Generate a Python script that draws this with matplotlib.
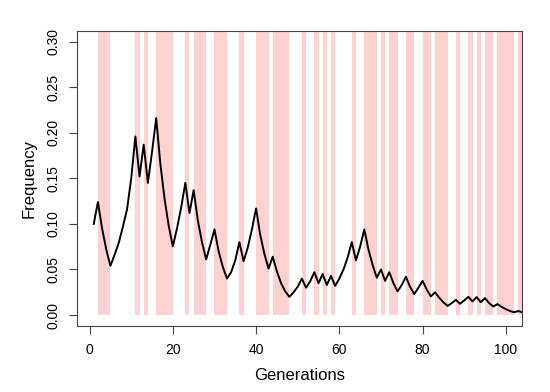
import matplotlib
matplotlib.use("Agg")
import matplotlib.pyplot as plt
import numpy as np

plt.rcParams['font.family'] = ['Liberation Sans', 'DejaVu Sans']

generations = list(range(1, 105))
frequency = [
    0.100, 0.124, 0.095, 0.072, 0.054, 0.066, 0.079, 0.097, 0.116, 0.150,
    0.196, 0.152, 0.187, 0.145, 0.179, 0.216, 0.166, 0.128, 0.098, 0.0755,
    0.095, 0.118, 0.145, 0.112, 0.137, 0.104, 0.080, 0.061, 0.077, 0.094,
    0.070, 0.053, 0.040, 0.047, 0.060, 0.080, 0.059, 0.074, 0.094, 0.117,
    0.088, 0.067, 0.051, 0.064, 0.048, 0.035, 0.026, 0.020, 0.025, 0.031,
    0.040, 0.030, 0.037, 0.047, 0.035, 0.045, 0.033, 0.043, 0.032, 0.040,
    0.050, 0.063, 0.080, 0.060, 0.075, 0.094, 0.072, 0.055, 0.041, 0.050,
    0.0375, 0.047, 0.035, 0.026, 0.033, 0.042, 0.031, 0.023, 0.030, 0.0375,
    0.028, 0.0205, 0.025, 0.019, 0.014, 0.010, 0.013, 0.0167, 0.0124, 0.016,
    0.020, 0.015, 0.0197, 0.014, 0.0186, 0.013, 0.0094, 0.012, 0.009, 0.0065,
    0.0045, 0.003, 0.0044, 0.003,
]

# shaded periods (start, end generation)
shade_start = [2, 11, 13, 16, 23, 25, 30, 36, 40, 44, 51, 54, 56, 58, 63, 66,
               70, 72, 76, 80, 83, 88, 91, 93, 95, 98, 103]
shade_end = [5, 12, 14, 20, 24, 28, 33, 37, 43, 48, 52, 55, 57, 59, 64, 69,
             71, 74, 78, 82, 86, 89, 92, 94, 97, 102, 104]

x_ticks = [0, 20, 40, 60, 80, 100]
y_ticks = [0.00, 0.05, 0.10, 0.15, 0.20, 0.25, 0.30]

fig = plt.figure(figsize=(5.5, 3.92), dpi=100)
ax = fig.add_axes([0.1405, 0.1684, 0.9496 - 0.1405, 0.9217 - 0.1684])

widths = np.array(shade_end) - np.array(shade_start)
ax.bar(shade_start, [1.0] * len(shade_start), width=widths, bottom=0,
       align='edge', color='#FFD2D2', edgecolor='none', linewidth=0, zorder=1)

ax.plot(generations, frequency, color='black', lw=1.4, zorder=3)

ax.set_xlim(-2.96, 103.96)
ax.set_ylim(-0.012, 0.312)
ax.set_xticks(x_ticks)
ax.set_yticks(y_ticks)
ax.set_xticklabels([str(v) for v in x_ticks])
ax.set_yticklabels([f"{v:.2f}" for v in y_ticks], rotation=90, va='center')
ax.tick_params(axis='both', length=6, width=0.8, colors='#444444',
               labelcolor='black', labelsize=10, pad=6)
for s in ax.spines.values():
    s.set_color('#444444')
    s.set_linewidth(0.8)

ax.set_xlabel('Generations', fontsize=12, labelpad=8)
ax.set_ylabel('Frequency', fontsize=12, labelpad=7)

fig.savefig('out.png', dpi=100)
